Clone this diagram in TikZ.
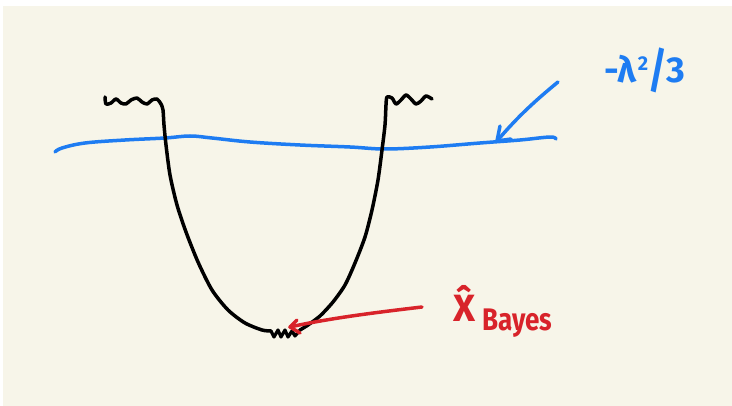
\documentclass[tikz,border=0pt]{standalone}
\usepackage{fontspec}
\setsansfont{Fira Sans}
\definecolor{paper}{HTML}{F7F5E9}
\definecolor{penblue}{HTML}{1E7CF2}
\definecolor{penred}{HTML}{D8232A}
\begin{document}
\begin{tikzpicture}[x=1pt,y=-1pt,
  ink/.style={line width=3.5pt,line cap=round,line join=round},
  labeltext/.style={inner sep=0pt,font=\sffamily\bfseries}]
\useasboundingbox (0,0) rectangle (732,406);
\fill[paper] (3,6) rectangle (732,406);
% blue level line
\draw[ink,penblue] plot[smooth,tension=0.6] coordinates {(55,152) (62,148) (85,143) (125,140) (165,138) (190,136) (212,138) (250,142) (300,145) (350,147) (385,149) (430,147) (480,143) (520,140) (550,137) (556,139)};
% black well curve
\draw[ink,black] plot[smooth,tension=0.45] coordinates {(105,97) (106,104) (111,103) (116,99) (121,103) (126,104) (131,100) (137,98) (142,102) (147,104) (152,100) (157,99) (161,104) (163,110) (164,125) (166,145) (170,175) (177,205) (186,232) (198,262) (212,290) (228,310) (245,323) (262,330) (271,331)};
\draw[line width=3.2pt,line join=round,line cap=round] (271,331) -- (274,337) -- (278,330) -- (281,337) -- (285,330) -- (288,337) -- (292,331) -- (295,336) -- (300,330);
\draw[ink,black] plot[smooth,tension=0.45] coordinates {(300,330) (308,325) (320,316) (333,302) (345,285) (355,263) (365,237) (372,210) (378,180) (382,150) (385,125) (386,105) (387,97) (392,98) (396,104) (401,100) (406,95) (411,99) (416,104) (421,101) (426,96) (432,99)};
% text labels
\node[labeltext,text=penblue,anchor=base west] (lam) at (604,83) {\fontsize{36}{36}\selectfont -λ\kern1pt\raisebox{12pt}{\fontsize{20}{20}\selectfont 2}\raisebox{-5pt}{\scalebox{1}[1.35]{/}}3};
\node[labeltext,text=penred,anchor=base west] (xhat) at (453,322) {\fontsize{38}{38}\selectfont\^{X}};
\node[labeltext,text=penred,anchor=base west] (bayes) at (482,331) {\scalebox{1}[1.2]{\fontsize{26}{26}\selectfont Bayes}};
% arrows
\coordinate (btail) at (558,82);
\coordinate (bhead) at (497,141);
\draw[ink,penblue] (btail) .. controls (530,105) and (515,120) .. (bhead);
\draw[ink,penblue] (500,126) -- (bhead) -- (511,139);
\coordinate (rtail) at (422,307);
\coordinate (rhead) at (290,327);
\draw[ink,penred] (rtail) .. controls (380,312) and (330,318) .. (rhead);
\draw[ink,penred] (297,320) -- (rhead) -- (300,333);
\end{tikzpicture}
\end{document}
